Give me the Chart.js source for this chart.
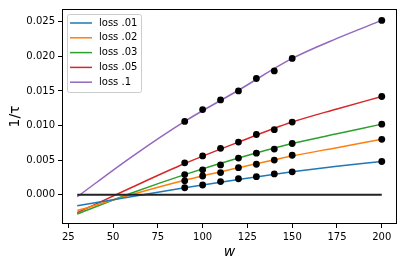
<!DOCTYPE html>
<html>
<head>
<meta charset="utf-8">
<script src="https://cdn.jsdelivr.net/npm/chart.js@4"></script>
<style>
  body { margin: 0; background: #fff; }
  #wrap { width: 403px; height: 266px; }
</style>
</head>
<body>
<div id="wrap"><canvas id="chart" width="403" height="266"></canvas></div>
<script>
// measured points
const wPoints = [90, 100, 110, 120, 130, 140, 150, 200];
const loss01 = [0.0010, 0.0014, 0.0019, 0.0023, 0.0026, 0.0030, 0.0033, 0.0048];
const loss02 = [0.0020, 0.0027, 0.0032, 0.0039, 0.0044, 0.0050, 0.0057, 0.0080];
const loss03 = [0.0029, 0.0036, 0.0043, 0.0053, 0.0060, 0.0066, 0.0074, 0.0102];
const loss05 = [0.0046, 0.0056, 0.0067, 0.0076, 0.0087, 0.0094, 0.0105, 0.0142];
const loss1  = [0.0106, 0.0123, 0.0137, 0.0150, 0.0168, 0.0179, 0.0197, 0.0252];

// fitted curves
const wFit = [30, 60, 90, 120, 150, 175, 200];
const fit01 = [-0.0016, -0.0003, 0.0010, 0.0022, 0.0033, 0.0041, 0.0048];
const fit02 = [-0.0023, 0.0000, 0.0021, 0.0039, 0.0056, 0.0068, 0.0080];
const fit03 = [-0.0028, 0.0002, 0.0029, 0.0053, 0.0074, 0.0088, 0.0102];
const fit05 = [-0.0026, 0.0010, 0.0045, 0.0076, 0.0105, 0.0124, 0.0142];
const fit1  = [-0.0003, 0.0054, 0.0106, 0.0151, 0.0197, 0.0226, 0.0252];

const zeroW = [30, 200];
const zeroY = [0, 0];

const labels = ['loss .01', 'loss .02', 'loss .03', 'loss .05', 'loss .1'];
const colors = ['#1f77b4', '#ff7f0e', '#2ca02c', '#d62728', '#9467bd'];

const xTicks = [25, 50, 75, 100, 125, 150, 175, 200];
const yTicks = [0, 0.005, 0.010, 0.015, 0.020, 0.025];

const fits = [fit01, fit02, fit03, fit05, fit1];
const pts = [loss01, loss02, loss03, loss05, loss1];

function xy(xs, ys) { return xs.map((x, i) => ({ x: x, y: ys[i] })); }

const datasets = [];
fits.forEach((f, i) => {
  datasets.push({
    label: labels[i],
    data: xy(wFit, f),
    showLine: true,
    borderColor: colors[i],
    borderWidth: 1.5,
    pointRadius: 0,
    cubicInterpolationMode: 'monotone',
    order: 3
  });
});
datasets.push({
  label: 'zero',
  data: xy(zeroW, zeroY),
  showLine: true,
  borderColor: '#222',
  borderWidth: 2,
  pointRadius: 0,
  order: 2
});
pts.forEach((p, i) => {
  datasets.push({
    label: labels[i] + ' pts',
    data: xy(wPoints, p),
    showLine: false,
    pointRadius: 3.4,
    pointBackgroundColor: '#000',
    pointBorderWidth: 0,
    order: 1
  });
});

const frameAndLegend = {
  id: 'frameAndLegend',
  afterDraw(chart) {
    const { ctx, chartArea: a } = chart;
    ctx.save();
    ctx.strokeStyle = '#000';
    ctx.lineWidth = 1;
    ctx.strokeRect(a.left + 0.5, a.top + 0.5, a.right - a.left - 1, a.bottom - a.top - 1);

    // legend box
    const bx = a.left + 5.5, by = a.top + 5.5, bw = 74, bh = 78;
    ctx.beginPath();
    ctx.roundRect(bx, by, bw, bh, 2);
    ctx.fillStyle = 'rgba(255,255,255,0.8)';
    ctx.fill();
    ctx.strokeStyle = '#cccccc';
    ctx.stroke();
    ctx.font = '10px "DejaVu Sans"';
    ctx.textBaseline = 'middle';
    labels.forEach((lab, i) => {
      const y = a.top + 14 + i * 14.8;
      ctx.beginPath();
      ctx.moveTo(a.left + 8, y);
      ctx.lineTo(a.left + 30, y);
      ctx.strokeStyle = colors[i];
      ctx.lineWidth = 1.5;
      ctx.stroke();
      ctx.fillStyle = '#000';
      ctx.fillText(lab, a.left + 37, y);
    });
    ctx.restore();
  }
};

Chart.defaults.font.family = '"DejaVu Sans"';
Chart.defaults.font.size = 10;
Chart.defaults.color = '#000';

new Chart(document.getElementById('chart'), {
  type: 'scatter',
  data: { datasets: datasets },
  options: {
    responsive: false,
    animation: false,
    devicePixelRatio: 1,
    layout: { padding: { top: 6, right: 6, left: 0, bottom: 0 } },
    plugins: { legend: { display: false }, tooltip: { enabled: false } },
    scales: {
      x: {
        type: 'linear',
        min: 21.5,
        max: 208.5,
        afterBuildTicks: s => { s.ticks = xTicks.map(v => ({ value: v })); },
        afterFit: s => { s.height = 42; },
        border: { display: false },
        grid: { drawOnChartArea: false, color: '#000', tickLength: 4 },
        ticks: { padding: 3, maxRotation: 0, callback: v => v },
        title: { display: true, text: 'w', font: { size: 14, style: 'italic' }, padding: { top: 0, bottom: 5 } }
      },
      y: {
        type: 'linear',
        min: -0.00424,
        max: 0.02685,
        afterBuildTicks: s => { s.ticks = yTicks.map(v => ({ value: v })); },
        afterFit: s => { s.width = 62; },
        border: { display: false },
        grid: { drawOnChartArea: false, color: '#000', tickLength: 4 },
        ticks: { padding: 3, callback: v => v.toFixed(3) },
        title: { display: true, text: '1/τ', font: { size: 14 }, padding: { top: 7, bottom: 0 } }
      }
    }
  },
  plugins: [frameAndLegend]
});
</script>
</body>
</html>
